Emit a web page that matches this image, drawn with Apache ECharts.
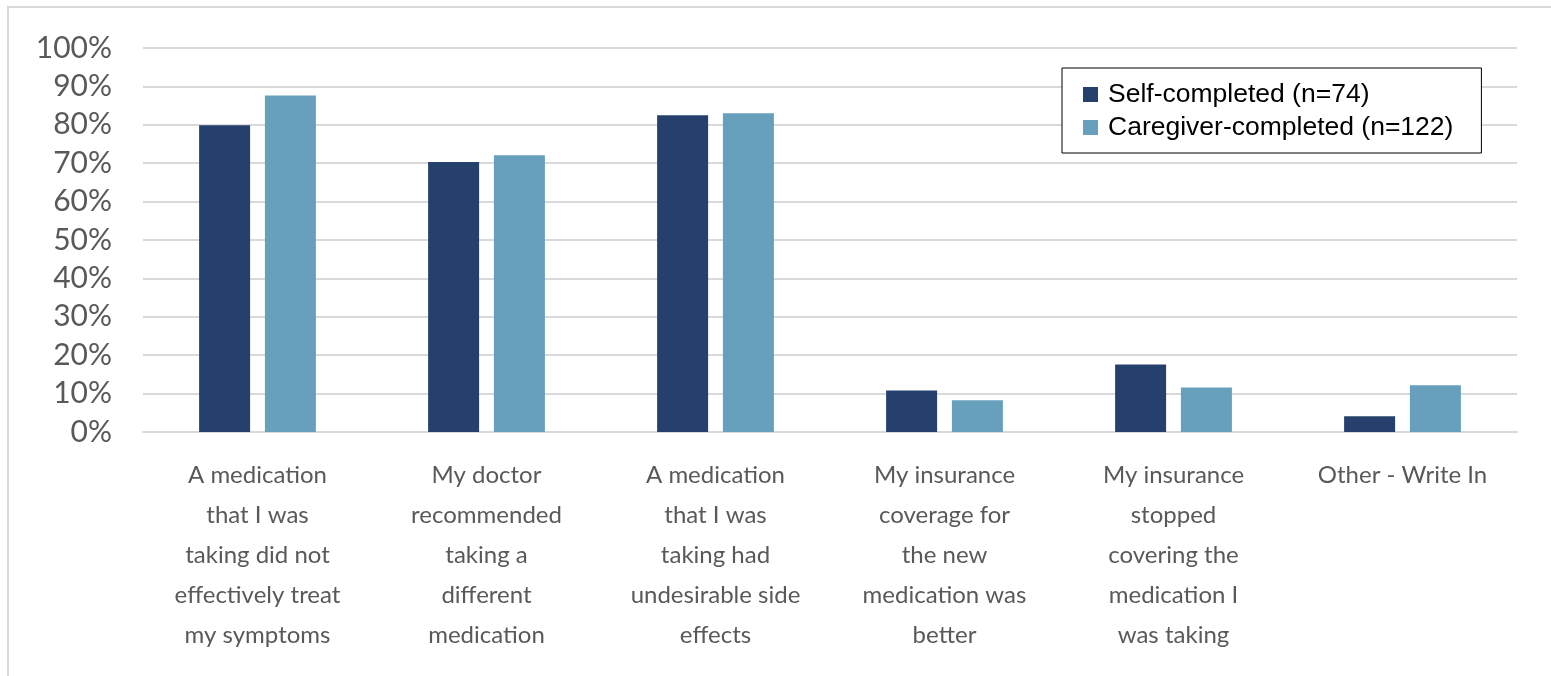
<!DOCTYPE html>
<html>
<head>
<meta charset="utf-8">
<script src="https://cdn.jsdelivr.net/npm/echarts@6/dist/echarts.min.js"></script>
<style>
  html, body { margin: 0; padding: 0; background: #ffffff; }
  #chart { width: 1551px; height: 676px; }
</style>
</head>
<body>
<div id="chart"></div>
<script>
const categories = [
  'A medication\nthat I was\ntaking did not\neffectively treat\nmy symptoms',
  'My doctor\nrecommended\ntaking a\ndifferent\nmedication',
  'A medication\nthat I was\ntaking had\nundesirable side\neffects',
  'My insurance\ncoverage for\nthe new\nmedication was\nbetter',
  'My insurance\nstopped\ncovering the\nmedication I\nwas taking',
  'Other - Write In'
];
const seriesNames = ['Self-completed (n=74)', 'Caregiver-completed (n=122)'];
const selfValues = [79.9, 70.3, 82.5, 10.8, 17.6, 4.1];
const caregiverValues = [87.6, 72.1, 83.0, 8.3, 11.6, 12.2];
const yTicks = { min: 0, max: 100, interval: 10 };

const chart = echarts.init(document.getElementById('chart'), null, { renderer: 'canvas' });
const labelFont = 'Lato, "Open Sans", sans-serif';
chart.setOption({
  animation: false,
  backgroundColor: '#ffffff',
  graphic: [{
    type: 'rect',
    shape: { x: 8, y: 7, width: 1700, height: 800 },
    style: { fill: 'none', stroke: '#d9d9d9', lineWidth: 2 },
    silent: true
  }],
  grid: { left: 143, right: 34, top: 48, bottom: 244, containLabel: false },
  legend: {
    left: 1062, top: 68,
    orient: 'vertical',
    data: seriesNames,
    icon: 'rect',
    itemWidth: 15, itemHeight: 15,
    itemGap: 6,
    padding: [13, 28, 12, 21],
    borderColor: '#000000', borderWidth: 1,
    backgroundColor: '#ffffff',
    textStyle: { fontFamily: '"Liberation Sans", Arial, sans-serif', fontSize: 26.5, lineHeight: 26, color: '#000000', padding: [0, 0, 0, 5] }
  },
  xAxis: {
    type: 'category',
    data: categories,
    axisLine: { show: true, lineStyle: { color: '#d9d9d9', width: 2 } },
    axisTick: { show: false },
    axisLabel: {
      interval: 0,
      margin: 23,
      fontFamily: labelFont,
      fontSize: 24,
      lineHeight: 40,
      color: '#595959',
      align: 'center',
      verticalAlign: 'top'
    }
  },
  yAxis: {
    type: 'value',
    min: yTicks.min, max: yTicks.max, interval: yTicks.interval,
    axisLine: { show: false },
    axisTick: { show: false },
    splitLine: { lineStyle: { color: '#d9d9d9', width: 2 } },
    axisLabel: {
      formatter: '{value}%',
      margin: 31,
      fontFamily: labelFont,
      fontSize: 30,
      color: '#595959'
    }
  },
  series: [
    {
      name: seriesNames[0], type: 'bar', data: selfValues,
      barWidth: 51, barGap: '29%',
      itemStyle: { color: '#26406e' }
    },
    {
      name: seriesNames[1], type: 'bar', data: caregiverValues,
      barWidth: 51,
      itemStyle: { color: '#66a0bd' }
    }
  ]
});
</script>
</body>
</html>
